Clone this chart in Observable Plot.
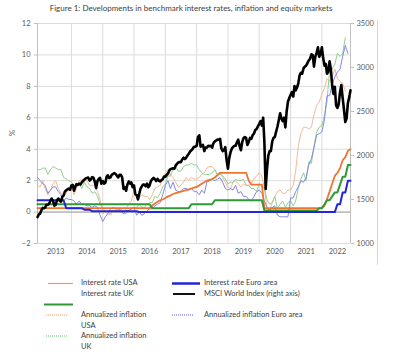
<!DOCTYPE html>
<html>
<head>
<meta charset="utf-8">
<script src="https://cdn.jsdelivr.net/npm/d3@7"></script>
<script src="https://cdn.jsdelivr.net/npm/@observablehq/plot@0.6"></script>
<style>
  html, body { margin: 0; padding: 0; background: #fff; }
  #wrap { position: relative; width: 400px; height: 362px; overflow: hidden; font-family: Lato, "Open Sans", sans-serif; color: #404040; }
  #title { position: absolute; left: 0; top: 2px; width: 382px; text-align: center; font-size: 8px; line-height: 12px; color: #404040; }
  #chart { position: absolute; left: 0; top: 0; }
  #pct { position: absolute; left: 9px; top: 128px; font-size: 8px; color: #595959; transform: rotate(-90deg); }
  #frame { position: absolute; left: 377px; top: 20px; width: 1px; height: 245px; background: #c9d7ea; }
  .lg { position: absolute; font-size: 7.5px; line-height: 10px; white-space: nowrap; color: #404040; }
</style>
</head>
<body>
<div id="wrap">
  <div id="chart"></div>
  <div id="title">Figure 1: Developments in benchmark interest rates, inflation and equity markets</div>
  <div id="pct">%</div>
  <div id="frame"></div>
</div>
<script>
// Monthly series, first value = Dec 2012 (month start)
const usRate = [0.25,
  0.25,0.25,0.25,0.25,0.25,0.25,0.25,0.25,0.25,0.25,0.25,0.25,
  0.25,0.25,0.25,0.25,0.25,0.25,0.25,0.25,0.25,0.25,0.25,0.25,
  0.25,0.25,0.25,0.25,0.25,0.25,0.25,0.25,0.25,0.25,0.25,0.25,
  0.25,0.25,0.25,0.25,0.25,0.25,0.25,0.4,0.55,0.65,0.75,0.8,
  0.9,1.0,1.05,1.15,1.2,1.25,1.3,1.35,1.4,1.45,1.5,1.55,
  1.6,1.7,1.8,1.9,2.0,2.05,2.1,2.2,2.35,2.5,2.5,2.5,
  2.5,2.5,2.5,2.5,2.5,2.5,2.5,2.5,2.0,1.75,1.75,1.75,
  1.75,1.75,0.25,0.25,0.25,0.25,0.25,0.25,0.25,0.25,0.25,0.25,
  0.25,0.25,0.25,0.25,0.25,0.25,0.25,0.25,0.25,0.25,0.25,0.25,
  0.25,0.4,0.8,1.3,1.8,2.3,2.5,2.8,3.3,3.5,3.9,
  4.0];
const ukRate = [0.5,
  0.5,0.5,0.5,0.5,0.5,0.5,0.5,0.5,0.5,0.5,0.5,0.5,
  0.5,0.5,0.5,0.5,0.5,0.5,0.5,0.5,0.5,0.5,0.5,0.5,
  0.5,0.5,0.5,0.5,0.5,0.5,0.5,0.5,0.5,0.5,0.5,0.5,
  0.5,0.5,0.5,0.5,0.5,0.5,0.5,0.25,0.25,0.25,0.25,0.25,
  0.25,0.25,0.25,0.25,0.25,0.25,0.25,0.25,0.25,0.25,0.5,0.5,
  0.5,0.5,0.5,0.5,0.5,0.5,0.5,0.75,0.75,0.75,0.75,0.75,
  0.75,0.75,0.75,0.75,0.75,0.75,0.75,0.75,0.75,0.75,0.75,0.75,
  0.75,0.75,0.1,0.1,0.1,0.1,0.1,0.1,0.1,0.1,0.1,0.1,
  0.1,0.1,0.1,0.1,0.1,0.1,0.1,0.1,0.1,0.1,0.1,0.25,
  0.25,0.5,0.75,0.75,1.0,1.25,1.25,1.75,2.25,2.25,3.0,
  3.0];
const euRate = [0.75,
  0.75,0.75,0.75,0.75,0.75,0.75,0.75,0.75,0.75,0.75,0.25,0.25,
  0.25,0.25,0.25,0.25,0.25,0.15,0.15,0.15,0.05,0.05,0.05,0.05,
  0.05,0.05,0.05,0.05,0.05,0.05,0.05,0.05,0.05,0.05,0.05,0.05,
  0.05,0.05,0,0,0,0,0,0,0,0,0,0,
  0,0,0,0,0,0,0,0,0,0,0,0,
  0,0,0,0,0,0,0,0,0,0,0,0,
  0,0,0,0,0,0,0,0,0,0,0,0,
  0,0,0,0,0,0,0,0,0,0,0,0,
  0,0,0,0,0,0,0,0,0,0,0,0,
  0,0,0,0,0,0,0.5,0.5,1.25,1.25,2.0,
  2.0];
const usInfl = [1.7,
  1.6,2.0,1.5,1.1,1.4,1.8,2.0,1.5,1.2,1.0,1.2,1.5,
  1.6,1.1,1.5,2.0,2.1,2.1,2.0,1.7,1.7,1.7,1.3,0.8,
  -0.1,0.0,-0.1,-0.2,0.0,0.1,0.2,0.2,0.0,0.2,0.5,0.7,
  1.4,1.0,0.9,1.1,1.0,1.0,0.8,1.1,1.5,1.6,1.7,2.1,
  2.5,2.7,2.4,2.2,1.9,1.6,1.7,1.9,2.2,2.0,2.2,2.1,
  2.1,2.2,2.4,2.5,2.8,2.9,2.9,2.7,2.3,2.5,2.2,1.9,
  1.6,1.5,1.9,2.0,1.8,1.6,1.8,1.7,1.7,1.8,2.1,2.3,
  2.5,2.3,1.5,0.3,0.1,0.6,1.0,1.3,1.4,1.2,1.2,1.4,
  1.4,1.7,2.6,4.2,5.0,5.4,5.4,5.3,5.4,6.2,6.8,7.0,
  7.5,7.9,8.5,8.3,8.6,9.1,8.5,8.3,8.2,7.7];
const ukInfl = [2.7,
  2.7,2.8,2.8,2.4,2.7,2.9,2.8,2.7,2.7,2.2,2.1,2.0,
  1.9,1.7,1.6,1.8,1.5,1.9,1.6,1.5,1.2,1.3,1.0,0.5,
  0.3,0.0,0.0,-0.1,0.1,0.0,0.1,0.0,-0.1,-0.1,0.1,0.2,
  0.3,0.3,0.5,0.3,0.3,0.5,0.6,0.6,1.0,0.9,1.2,1.6,
  1.8,2.3,2.3,2.7,2.9,2.6,2.6,2.9,3.0,3.0,3.1,3.0,
  3.0,2.7,2.5,2.4,2.4,2.4,2.5,2.7,2.4,2.4,2.3,2.1,
  1.8,1.9,1.9,2.1,2.0,2.0,2.1,1.7,1.7,1.5,1.5,1.3,
  1.8,1.7,1.5,0.8,0.5,0.6,1.0,0.2,0.5,0.7,0.3,0.6,
  0.7,0.4,0.7,1.5,2.1,2.5,2.0,3.2,3.1,4.2,5.1,5.4,
  5.5,6.2,7.0,9.0,9.1,9.4,10.1,9.9,10.1,11.1];
const euInfl = [2.2,
  2.0,1.8,1.7,1.2,1.4,1.6,1.6,1.3,1.1,0.7,0.9,0.8,
  0.8,0.7,0.5,0.7,0.5,0.5,0.4,0.4,0.3,0.4,0.3,-0.2,
  -0.6,-0.3,-0.1,0.2,0.3,0.2,0.2,0.1,-0.1,0.1,0.1,0.2,
  0.3,-0.2,0.0,-0.2,-0.1,0.1,0.2,0.2,0.4,0.5,0.6,1.1,
  1.7,2.0,1.5,1.9,1.4,1.3,1.3,1.5,1.5,1.4,1.5,1.3,
  1.3,1.1,1.4,1.2,1.9,2.0,2.1,2.0,2.1,2.2,1.9,1.5,
  1.4,1.5,1.4,1.7,1.2,1.3,1.0,1.0,0.8,0.7,1.0,1.3,
  1.4,1.2,0.7,0.3,0.1,0.3,0.4,-0.2,-0.3,-0.3,-0.3,-0.3,
  0.9,0.9,1.3,1.6,2.0,1.9,2.2,3.0,3.4,4.1,4.9,5.0,
  5.1,5.9,7.4,7.4,8.1,8.6,8.9,9.1,9.9,10.6,10.1];
// MSCI World, two readings per month (1st and 16th), from Dec 2012
const msci = [1300,1330,
  1340,1380, 1405,1400, 1410,1440, 1440,1450, 1490,1510, 1480,1430, 1440,1490, 1510,1490, 1475,1530, 1545,1590, 1605,1615, 1625,1610,
  1660,1665, 1600,1650, 1675,1665, 1680,1670, 1695,1710, 1725,1740, 1745,1750, 1715,1730, 1755,1745, 1700,1630, 1710,1735, 1745,1680,
  1710,1680, 1690,1760, 1775,1745, 1750,1780, 1790,1800, 1790,1770, 1750,1780, 1780,1750, 1620,1640, 1600,1670, 1705,1680, 1695,1640,
  1660,1560, 1550,1500, 1560,1620, 1650,1670, 1670,1650, 1680,1640, 1660,1710, 1730,1745, 1730,1710, 1735,1715, 1705,1720, 1730,1760,
  1760,1780, 1795,1830, 1845,1850, 1855,1850, 1885,1905, 1920,1925, 1925,1955, 1975,1960, 1975,2000, 2020,2045, 2060,2075, 2100,2100,
  2110,2210, 2230,2100, 2110,2120, 2050,2090, 2090,2110, 2105,2110, 2090,2140, 2160,2170, 2180,2180, 2190,2080, 2050,2060, 2095,1950,
  1850,1970, 2040,2080, 2095,2110, 2110,2150, 2180,2110, 2060,2150, 2195,2210, 2200,2120, 2155,2200, 2190,2230, 2250,2290, 2300,2330,
  2360,2390, 2340,2430, 2160,1620, 1850,2000, 2050,2050, 2160,2200, 2210,2270, 2330,2400, 2480,2420, 2390,2430, 2320,2500, 2610,2650,
  2690,2720, 2670,2790, 2740,2770, 2820,2910, 2940,2930, 2990,3010, 3020,3050, 3080,3100, 3150,3140, 3010,3120, 3170,3230, 3120,3150,
  3230,3110, 3020,3040, 2930,2950, 3070,2980, 2800,2700, 2780,2570, 2540,2580, 2720,2800, 2650,2520, 2380,2420, 2600,2660,
  2740];
const leftTicks = [-2, 0, 2, 4, 6, 8, 10, 12];
const rightTicks = [1000, 1500, 2000, 2500, 3000, 3500];
const yearLabels = [2013, 2014, 2015, 2016, 2017, 2018, 2019, 2020, 2021, 2022];

const month = i => new Date(Date.UTC(2012, 11 + i, 1));
const half = i => new Date(Date.UTC(2012, 11 + Math.floor(i / 2), i % 2 ? 16 : 1));
const series = (arr) => arr.map((v, i) => ({date: month(i), v}));
const toLeft = r => (r - 1000) * 14 / 2500 - 2;
const toRight = v => Math.round((v + 2) * 2500 / 14 + 1000);

const msciData = msci.map((r, i) => ({date: i === msci.length - 1 ? month(120) : half(i), v: toLeft(r)}));

const chart = Plot.plot({
  width: 400,
  height: 265,
  marginTop: 23,
  marginBottom: 22,
  marginLeft: 37,
  marginRight: 50,
  style: {fontFamily: "Lato, sans-serif", fontSize: "7.5px", background: "transparent"},
  x: {type: "utc", domain: [month(0), month(120)]},
  y: {domain: [-2, 12]},
  marks: [
    Plot.gridY(leftTicks, {stroke: "#dcdcdc", strokeOpacity: 1}),
    Plot.gridX(yearLabels.slice(1).map(y => new Date(Date.UTC(y, 0, 1))), {stroke: "#dcdcdc", strokeOpacity: 1}),
    Plot.ruleX([month(0), month(120)], {stroke: "#bfbfbf"}),
    Plot.ruleY([0], {stroke: "#a0a0a0"}),
    Plot.line(series(usInfl), {x: "date", y: "v", stroke: "#f6b896", strokeWidth: 1}),
    Plot.line(series(ukInfl), {x: "date", y: "v", stroke: "#92d092", strokeWidth: 1}),
    Plot.line(series(euInfl), {x: "date", y: "v", stroke: "#8288e6", strokeWidth: 1}),
    Plot.line(series(usRate), {x: "date", y: "v", stroke: "#f07430", strokeWidth: 1.8}),
    Plot.line(series(ukRate), {x: "date", y: "v", stroke: "#2f9a35", strokeWidth: 2}),
    Plot.line(series(euRate), {x: "date", y: "v", stroke: "#2424d8", strokeWidth: 2}),
    Plot.line(msciData, {x: "date", y: "v", stroke: "#000", strokeWidth: 2.6}),
    Plot.axisY(leftTicks, {anchor: "left", tickSize: 3, tickPadding: 4, color: "#595959", stroke: "#bfbfbf", label: null}),
    Plot.axisY(rightTicks.map(toLeft), {anchor: "right", tickSize: 3, tickPadding: 3, color: "#595959", stroke: "#bfbfbf", tickFormat: v => String(toRight(v)), label: null}),
    Plot.axisX(yearLabels.map(y => new Date(Date.UTC(y, 6, 1))), {anchor: "bottom", tickSize: 0, tickPadding: 5, color: "#595959", tickFormat: d => String(d.getUTCFullYear()), label: null})
  ]
});
document.getElementById("chart").appendChild(chart);

// Legend
const legendItems = [
  {text: ["Interest rate USA"], tx: 81, ty: 283, sw: {x1: 48, x2: 73, y: 283.5, c: "#f4926a", w: 1.2}},
  {text: ["Interest rate UK"], tx: 81, ty: 293.5, sw: {x1: 44, x2: 73, y: 304.5, c: "#2f9a35", w: 2}},
  {text: ["Annualized inflation", "USA"], tx: 81, ty: 315, sw: {x1: 46, x2: 68, y: 315, c: "#f4a070", w: 1, dash: "1,1"}},
  {text: ["Annualized inflation", "UK"], tx: 81, ty: 336, sw: {x1: 46, x2: 68, y: 336, c: "#6cbf6c", w: 1, dash: "1,1"}},
  {text: ["Interest rate Euro area"], tx: 204, ty: 283, sw: {x1: 172, x2: 200, y: 283.5, c: "#2424d8", w: 2.5}},
  {text: ["MSCI World Index (right axis)"], tx: 204, ty: 293.5, sw: {x1: 173, x2: 195, y: 294, c: "#111", w: 2}},
  {text: ["Annualized inflation Euro area"], tx: 204, ty: 315, sw: {x1: 172, x2: 194, y: 315, c: "#5a5ae6", w: 1, dash: "1,1"}}
];
const wrap = document.getElementById("wrap");
const svgNS = "http://www.w3.org/2000/svg";
const lsvg = document.createElementNS(svgNS, "svg");
lsvg.setAttribute("width", 400); lsvg.setAttribute("height", 362);
lsvg.style.position = "absolute"; lsvg.style.left = "0"; lsvg.style.top = "0";
for (const it of legendItems) {
  const l = document.createElementNS(svgNS, "line");
  l.setAttribute("x1", it.sw.x1); l.setAttribute("x2", it.sw.x2);
  l.setAttribute("y1", it.sw.y); l.setAttribute("y2", it.sw.y);
  l.setAttribute("stroke", it.sw.c); l.setAttribute("stroke-width", it.sw.w);
  if (it.sw.dash) l.setAttribute("stroke-dasharray", it.sw.dash);
  lsvg.appendChild(l);
  it.text.forEach((t, k) => {
    const d = document.createElement("div");
    d.className = "lg";
    d.textContent = t;
    d.style.left = it.tx + "px";
    d.style.top = (it.ty - 5 + k * 11) + "px";
    wrap.appendChild(d);
  });
}
wrap.appendChild(lsvg);
</script>
</body>
</html>
